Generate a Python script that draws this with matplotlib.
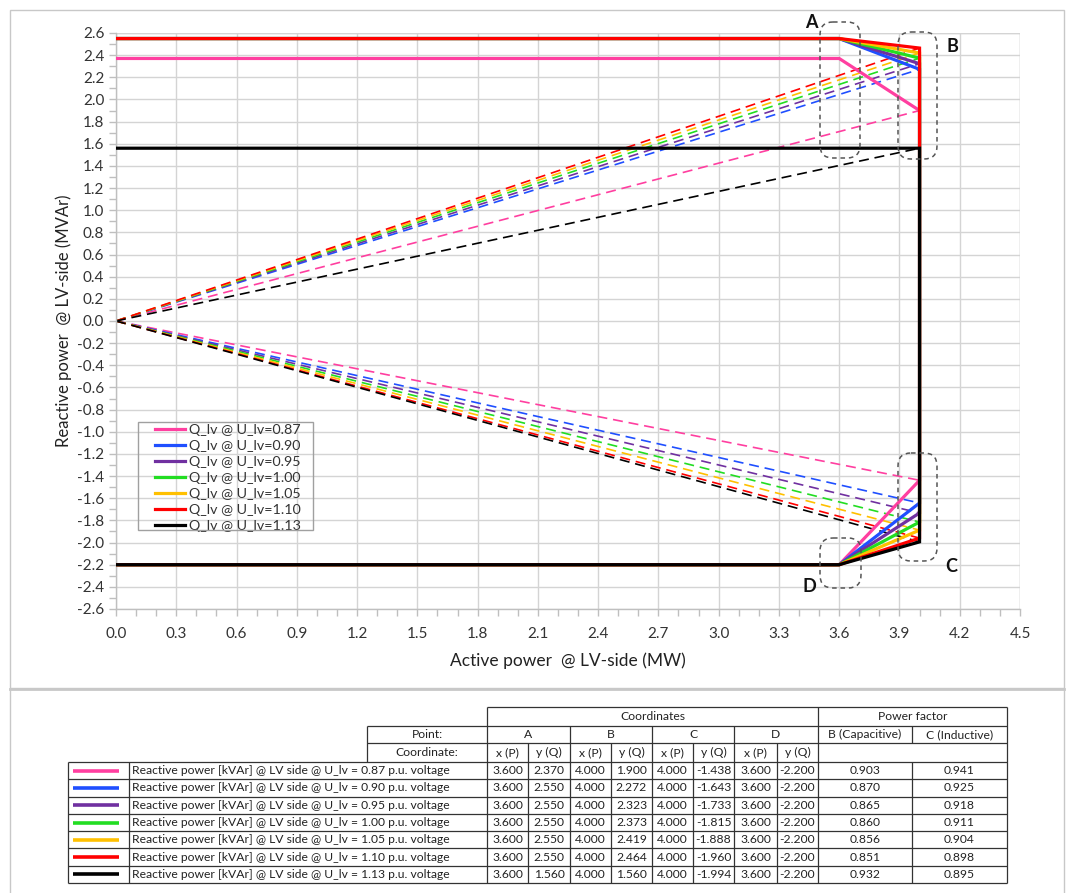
import matplotlib
matplotlib.use("Agg")
import matplotlib.pyplot as plt
from matplotlib.patches import FancyBboxPatch, Rectangle
from matplotlib.ticker import MultipleLocator, FormatStrFormatter

plt.rcParams['font.family'] = ['Lato', 'DejaVu Sans']
plt.rcParams['axes.unicode_minus'] = False

# ---------------- data ----------------
voltages = ["0.87", "0.90", "0.95", "1.00", "1.05", "1.10", "1.13"]
colors = ["#FF3FA0", "#1F4FFF", "#7030A0", "#22DD22", "#FFC000", "#FF0000", "#000000"]
A_x = [3.600, 3.600, 3.600, 3.600, 3.600, 3.600, 3.600]
A_y = [2.370, 2.550, 2.550, 2.550, 2.550, 2.550, 1.560]
B_x = [4.000, 4.000, 4.000, 4.000, 4.000, 4.000, 4.000]
B_y = [1.900, 2.272, 2.323, 2.373, 2.419, 2.464, 1.560]
C_x = [4.000, 4.000, 4.000, 4.000, 4.000, 4.000, 4.000]
C_y = [-1.438, -1.643, -1.733, -1.815, -1.888, -1.960, -1.994]
D_x = [3.600, 3.600, 3.600, 3.600, 3.600, 3.600, 3.600]
D_y = [-2.200, -2.200, -2.200, -2.200, -2.200, -2.200, -2.200]
PF_B = [0.903, 0.870, 0.865, 0.860, 0.856, 0.851, 0.932]
PF_C = [0.941, 0.925, 0.918, 0.911, 0.904, 0.898, 0.895]
point_labels = ["A", "B", "C", "D"]

W, H = 1068, 893
fig = plt.figure(figsize=(W / 100, H / 100), dpi=100)

# plot area in pixels: left 116, right 1020, top 33, bottom 609
L, R, T, Bm = 116, 1020, 33, 609
ax = fig.add_axes([L / W, 1 - Bm / H, (R - L) / W, (Bm - T) / H])

grid_c = "#D4D4D4"
ax.set_xlim(0, 4.5)
ax.set_ylim(-2.6, 2.6)
ax.xaxis.set_major_locator(MultipleLocator(0.3))
ax.xaxis.set_minor_locator(MultipleLocator(0.1))
ax.yaxis.set_major_locator(MultipleLocator(0.2))
ax.yaxis.set_minor_locator(MultipleLocator(0.1))
ax.xaxis.set_major_formatter(FormatStrFormatter("%.1f"))
ax.yaxis.set_major_formatter(FormatStrFormatter("%.1f"))
ax.grid(True, which="major", color=grid_c, lw=1.0, zorder=0)
ax.set_axisbelow(True)
for s in ["top", "right"]:
    ax.spines[s].set_visible(False)
for s in ["left", "bottom"]:
    ax.spines[s].set_color("#BFBFBF")
    ax.spines[s].set_linewidth(1.0)
ax.tick_params(which="both", direction="out", color="#BFBFBF", length=5, width=1,
               labelsize=11, labelcolor="#333333")
ax.tick_params(axis="x", pad=8)
ax.axvline(4.5, color=grid_c, lw=1.0, zorder=0)
ax.axhline(2.6, color=grid_c, lw=1.0, zorder=0)

ax.set_xlabel("Active power  @ LV-side (MW)", fontsize=12.5, color="#222222", labelpad=8)
ax.set_ylabel("Reactive power  @ LV-side (MVAr)", fontsize=12, color="#222222", labelpad=4)

# dashed lines from origin to B and C
for i in range(len(voltages)):
    ax.plot([0, B_x[i]], [0, B_y[i]], color=colors[i], lw=1.2, dashes=(6, 3.5), zorder=2)
    ax.plot([0, C_x[i]], [0, C_y[i]], color=colors[i], lw=1.2, dashes=(6, 3.5), zorder=2)

# solid capability curves
for i in range(len(voltages)):
    xs = [0, A_x[i], B_x[i], C_x[i], D_x[i], 0]
    ys = [A_y[i], A_y[i], B_y[i], C_y[i], D_y[i], D_y[i]]
    ax.plot(xs, ys, color=colors[i], lw=2.3, solid_joinstyle="miter",
            label="Q_lv @ U_lv=" + voltages[i], zorder=3 + i)

leg = ax.legend(loc="upper left", bbox_to_anchor=((155 - L) / (R - L), (Bm - 424) / (Bm - T)),
                fontsize=10.3, frameon=False, handlelength=2.1,
                handletextpad=0.25, labelspacing=0.28, borderpad=0, borderaxespad=0)
for t in leg.get_texts():
    t.set_color("#333333")

# ---------------- overlay in pixel coordinates ----------------
ov = fig.add_axes([0, 0, 1, 1], zorder=10)
ov.set_xlim(0, W)
ov.set_ylim(H, 0)
ov.axis("off")
ov.patch.set_visible(False)

# legend frame
ov.add_patch(Rectangle((138, 422), 175, 108, fill=False, ec="#A0A0A0", lw=1.0))

# chart frame and separator
ov.add_patch(Rectangle((10, 10), 1054, 678, fill=False, ec="#C8C8C8", lw=1.0))
ov.plot([10, 1064], [689, 689], color="#C8C8C8", lw=2)
ov.plot([10, 10], [689, 893], color="#C8C8C8", lw=1)
ov.plot([1064, 1064], [689, 893], color="#C8C8C8", lw=1)

# dashed rounded boxes around points
boxes = [(820, 22, 40, 136), (898, 32, 39, 127), (898, 453, 39, 108), (820, 538, 41, 50)]
for (bx, by, bw, bh) in boxes:
    ov.add_patch(FancyBboxPatch((bx, by), bw, bh, boxstyle="round,pad=0,rounding_size=13",
                                fill=False, ec="#555555", lw=1.1, ls=(0, (3, 2.5))))
label_pos = [(811, 23), (952, 47), (951, 567), (809, 587)]
for lab, (lx, ly) in zip(point_labels, label_pos):
    ov.text(lx, ly, lab, fontsize=13, fontweight="bold", ha="center", va="center", color="#111111")

# ---------------- table ----------------
tc = "#333333"
tlw = 0.9
fs = 8.7
cols = [68, 129, 487, 528, 570, 611, 652, 693, 734, 777, 818, 912, 1007]
r_top, r_pt, r_co, r_d0 = 707, 726, 743, 762
row_h = (883 - 762) / 7
rows = [r_d0 + k * row_h for k in range(8)]

def hl(y, x0, x1, lw=tlw):
    ov.plot([x0, x1], [y, y], color=tc, lw=lw, solid_capstyle="butt")

def vl(x, y0, y1, lw=tlw):
    ov.plot([x, x], [y0, y1], color=tc, lw=lw, solid_capstyle="butt")

hl(r_top, 487, 1007)
hl(r_pt, 367, 1007)
hl(r_co, 367, 1007)
for y in rows:
    hl(y, 68, 1007)
vl(487, r_top, rows[-1])
vl(818, r_top, rows[-1])
vl(1007, r_top, rows[-1])
vl(367, r_pt, r_d0)
for x in [570, 652, 734]:
    vl(x, r_pt, rows[-1])
vl(912, r_pt, r_co)
vl(912, r_d0, rows[-1])
for x in [528, 611, 693, 777]:
    vl(x, r_co, rows[-1])
vl(68, r_d0, rows[-1])
vl(129, r_d0, rows[-1])

def ct(x, y, s, ha="center"):
    ov.text(x, y, s, fontsize=fs, ha=ha, va="center", color="#222222")

ct((487 + 818) / 2, (r_top + r_pt) / 2, "Coordinates")
ct((818 + 1007) / 2, (r_top + r_pt) / 2, "Power factor")
ct(427, (r_pt + r_co) / 2, "Point:")
ct(427, (r_co + r_d0) / 2, "Coordinate:")
for k, lab in enumerate(point_labels):
    ct((cols[2 + 2 * k] + cols[4 + 2 * k]) / 2, (r_pt + r_co) / 2, lab)
    ct((cols[2 + 2 * k] + cols[3 + 2 * k]) / 2, (r_co + r_d0) / 2, "x (P)")
    ct((cols[3 + 2 * k] + cols[4 + 2 * k]) / 2, (r_co + r_d0) / 2, "y (Q)")
ct((818 + 912) / 2, (r_pt + r_co) / 2, "B (Capacitive)")
ct((912 + 1007) / 2, (r_pt + r_co) / 2, "C (Inductive)")

for i in range(len(voltages)):
    yc = (rows[i] + rows[i + 1]) / 2
    ov.plot([73, 119], [yc, yc], color=colors[i], lw=2.6, solid_capstyle="butt")
    ct(132, yc, "Reactive power [kVAr] @ LV side @ U_lv = " + voltages[i] + " p.u. voltage", ha="left")
    vals = [A_x[i], A_y[i], B_x[i], B_y[i], C_x[i], C_y[i], D_x[i], D_y[i]]
    for k, v in enumerate(vals):
        ct((cols[2 + k] + cols[3 + k]) / 2, yc, f"{v:.3f}")
    ct((818 + 912) / 2, yc, f"{PF_B[i]:.3f}")
    ct((912 + 1007) / 2, yc, f"{PF_C[i]:.3f}")

fig.savefig("out.png", dpi=100)
